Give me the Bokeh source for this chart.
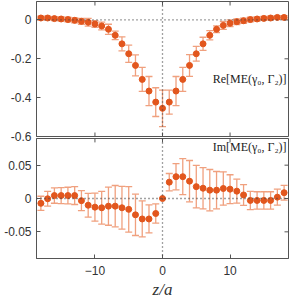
import numpy as np
from bokeh.plotting import figure
from bokeh.layouts import column
from bokeh.models import (ColumnDataSource, Whisker, TeeHead, Span, Label,
                          FixedTicker)
from bokeh.embed import file_html
from bokeh.resources import INLINE

z = list(range(-18, 19))
re_val = [0.010, 0.010, 0.007, 0.005, 0.002, -0.002, -0.007, -0.012, -0.021, -0.031,
          -0.048, -0.079, -0.123, -0.174, -0.234, -0.306, -0.366, -0.423,
          -0.455,
          -0.423, -0.366, -0.306, -0.234, -0.174, -0.123, -0.079, -0.048, -0.028,
          -0.017, -0.009, -0.004, 0.002, 0.005, 0.008, 0.010, 0.013, 0.013]
re_err = [0.009, 0.010, 0.010, 0.011, 0.012, 0.013, 0.015, 0.020, 0.017, 0.020,
          0.026, 0.022, 0.036, 0.044, 0.054, 0.062, 0.075, 0.074,
          0.094,
          0.062, 0.075, 0.062, 0.056, 0.038, 0.034, 0.024, 0.017, 0.020,
          0.017, 0.015, 0.013, 0.012, 0.011, 0.010, 0.010, 0.009, 0.009]
im_val = [-0.0072, -0.0004, 0.0044, 0.0044, 0.0044, 0.0044, -0.0033, -0.0101, -0.0130,
          -0.0139, -0.0115, -0.0115, -0.0139, -0.0163, -0.0245, -0.0307, -0.0307, -0.0225,
          0.0,
          0.0245, 0.0327, 0.0327, 0.0260, 0.0178, 0.0154, 0.0125, 0.0125, 0.0150,
          0.0140, 0.0110, 0.0053, -0.0029, -0.0029, -0.0029, -0.0029, 0.0020, 0.0087]
im_err = [0.0106, 0.0110, 0.0115, 0.0120, 0.0125, 0.0134, 0.0150, 0.0178, 0.0210,
          0.0245, 0.0286, 0.0310, 0.0320, 0.0340, 0.0310, 0.0270, 0.0210, 0.0144,
          0.0,
          0.0130, 0.0197, 0.0270, 0.0310, 0.0320, 0.0310, 0.0310, 0.0280, 0.0250,
          0.0216, 0.0180, 0.0156, 0.0137, 0.0130, 0.0130, 0.0130, 0.0120, 0.0110]

re_ticks = [-0.6, -0.4, -0.2, 0]
im_ticks = [-0.05, 0, 0.05]
x_ticks = [-10, 0, 10]

PT = "#e2561d"
EB = "#f0a07e"
AX = "#555555"
FONT = "Liberation Sans"

XR = (-18.65, 18.65)
TICK_PX = 4.0
FRAME_W = 252.0


def style(p, yticks, yr, frame_h, show_x):
    p.outline_line_color = AX
    p.outline_line_width = 1
    p.background_fill_color = "white"
    p.border_fill_color = None
    p.xgrid.visible = False
    p.ygrid.visible = False
    ya = p.yaxis[0]
    ya.ticker = FixedTicker(ticks=yticks)
    ya.major_label_overrides = {t: ("0" if t == 0 else f"{t:g}") for t in yticks}
    ya.major_label_text_font = FONT
    ya.major_label_text_font_size = "12px"
    ya.major_label_text_color = "#333333"
    ya.major_label_standoff = 5
    ya.major_tick_in = 4
    ya.major_tick_out = 0
    ya.minor_tick_line_color = None
    ya.axis_line_color = AX
    ya.major_tick_line_color = AX
    xa = p.xaxis[0]
    if show_x:
        xa.ticker = FixedTicker(ticks=x_ticks)
        xa.major_tick_in = 4
        xa.major_tick_out = 0
        xa.minor_tick_line_color = None
        xa.axis_line_color = AX
        xa.major_tick_line_color = AX
        xa.major_label_text_font = FONT
        xa.major_label_text_font_size = "12px"
        xa.major_label_text_color = "#333333"
        xa.major_label_standoff = 7
        xa.axis_label = "z/a"
        xa.axis_label_text_font = "Liberation Serif"
        xa.axis_label_text_font_style = "italic"
        xa.axis_label_text_font_size = "17px"
        xa.axis_label_text_color = "#333333"
        xa.axis_label_standoff = 2
    else:
        xa.visible = False
    # mirrored inward ticks (right side, top and, where no axis, bottom)
    dx = TICK_PX * (XR[1] - XR[0]) / FRAME_W
    dy = TICK_PX * (yr[1] - yr[0]) / frame_h
    p.segment(x0=[XR[1]] * len(yticks), y0=yticks, x1=[XR[1] - dx] * len(yticks),
              y1=yticks, line_color=AX, line_width=1)
    p.segment(x0=x_ticks, y0=[yr[1]] * 3, x1=x_ticks, y1=[yr[1] - dy] * 3,
              line_color=AX, line_width=1)
    if not show_x:
        p.segment(x0=x_ticks, y0=[yr[0]] * 3, x1=x_ticks, y1=[yr[0] + dy] * 3,
                  line_color=AX, line_width=1)
    p.add_layout(Span(location=0, dimension="width", line_color="#444444",
                      line_dash="1 3", line_width=1.3))
    p.add_layout(Span(location=0, dimension="height", line_color="#444444",
                      line_dash="1 3", line_width=1.3))


def draw(p, vals, errs):
    v = np.array(vals)
    e = np.array(errs)
    src = ColumnDataSource(dict(x=z, y=v, lo=v - e, hi=v + e))
    w = Whisker(base="x", upper="hi", lower="lo", source=src,
                line_color=EB, line_width=1.3,
                upper_head=TeeHead(size=7, line_color=EB, line_width=1.3),
                lower_head=TeeHead(size=7, line_color=EB, line_width=1.3))
    p.add_layout(w)
    p.scatter("x", "y", source=src, size=6, color=PT, line_color=PT)


YR_TOP = (-0.6, 0.095)
YR_BOT = (-0.09, 0.09)

top = figure(width=289, height=143, x_range=XR, y_range=YR_TOP,
             output_backend="svg", toolbar_location=None,
             min_border_left=36, min_border_right=1, min_border_top=1, min_border_bottom=7)
style(top, re_ticks, YR_TOP, 135.0, False)
draw(top, re_val, re_err)
top.add_layout(Label(x=18.37, y=-0.302, text="Re[ME(γ₀, Γ₂)]", text_align="right",
                     text_baseline="middle", text_font="Liberation Serif",
                     text_font_size="12px", text_color="#222222"))

bot = figure(width=289, height=164, x_range=XR, y_range=YR_BOT,
             output_backend="svg", toolbar_location=None,
             min_border_left=36, min_border_right=1, min_border_top=1, min_border_bottom=40,
             margin=(-6, 0, 0, 0))
style(bot, im_ticks, YR_BOT, 123.0, True)
draw(bot, im_val, im_err)
bot.add_layout(Label(x=18.37, y=0.078, text="Im[ME(γ₀, Γ₂)]", text_align="right",
                     text_baseline="middle", text_font="Liberation Serif",
                     text_font_size="12px", text_color="#222222"))

layout = column(top, bot, spacing=0)
open("out.html", "w").write(file_html(layout, INLINE))
